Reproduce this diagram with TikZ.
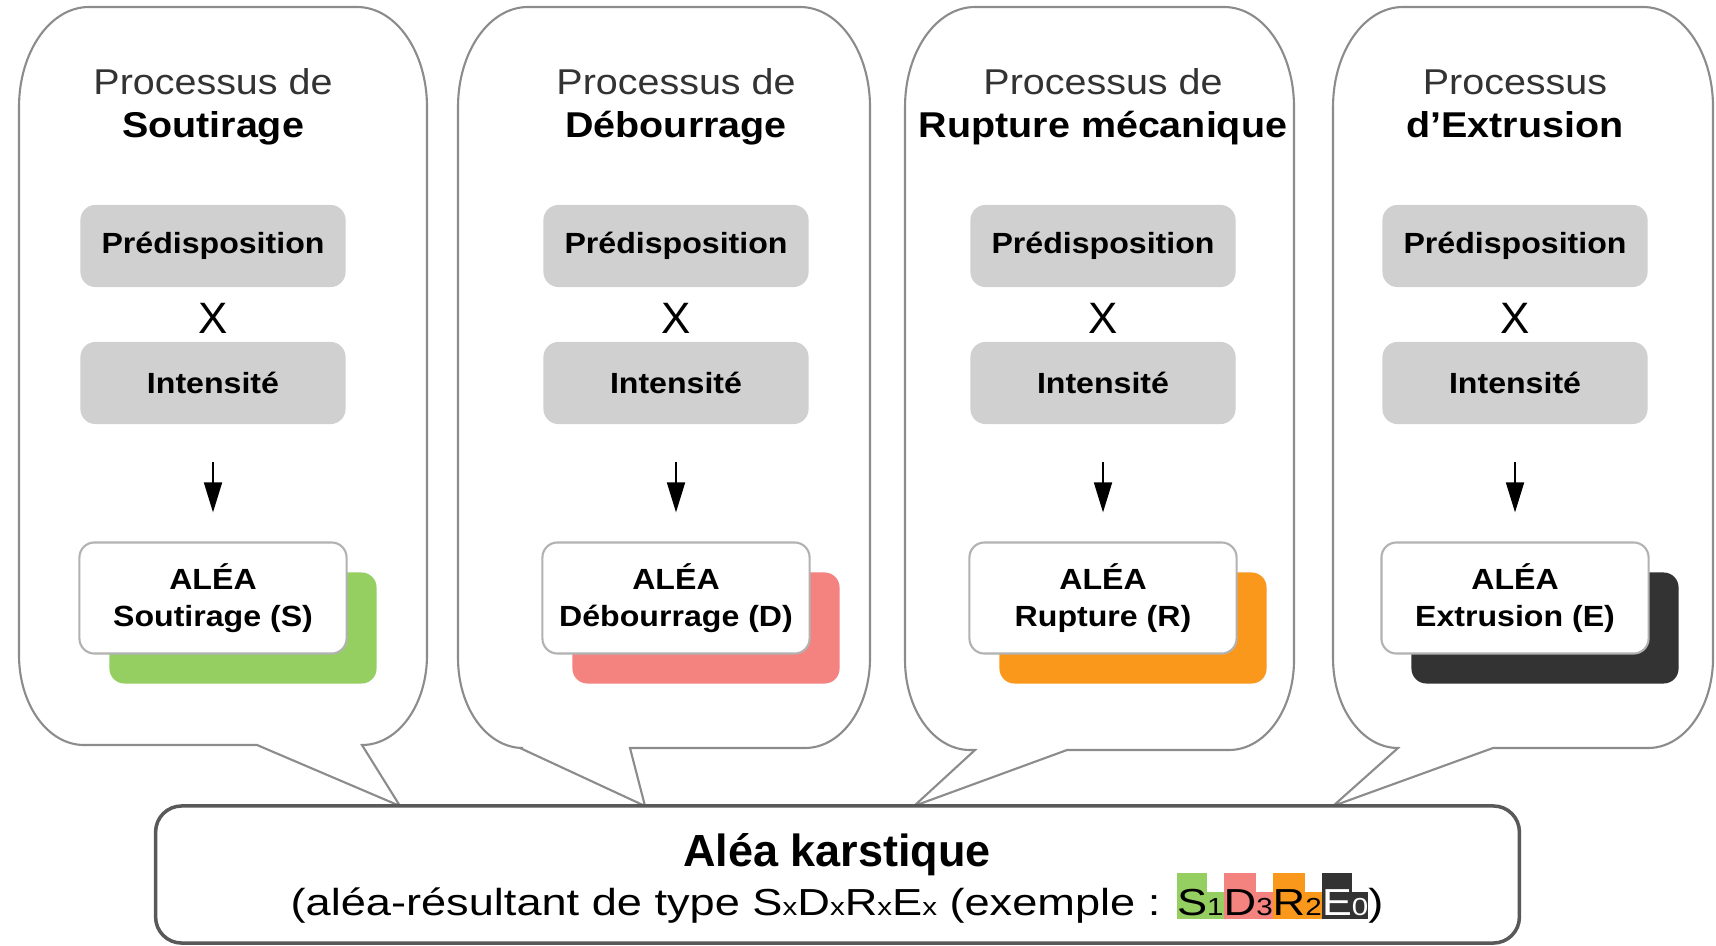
\documentclass[tikz,border=0pt]{standalone}
\usepackage{fontspec}
\setmainfont{Liberation Sans}[FakeStretch=1.1]
\newfontfamily\plainfont{Liberation Sans}
\newfontfamily\widefont{Liberation Sans}[FakeStretch=1.2]
\usetikzlibrary{arrows.meta}

\definecolor{bubblegray}{HTML}{8C8C8C}
\definecolor{boxgray}{HTML}{D0D0D0}
\definecolor{titlegray}{HTML}{333333}
\definecolor{aleaS}{HTML}{95CF62}
\definecolor{aleaD}{HTML}{F4827F}
\definecolor{aleaR}{HTML}{FA981C}
\definecolor{aleaE}{HTML}{333333}

\newcommand{\smallx}{{\fontsize{7}{7}\selectfont x}}
\newcommand{\codepair}[4]{{\setlength{\fboxsep}{0pt}%
  \colorbox{#1}{\color{#4}\rule[-0.04cm]{0pt}{0.46cm}#2}%
  \colorbox{#1}{\color{#4}\fontsize{7}{7}\selectfont\rule[-0.04cm]{0pt}{0.27cm}#3}}}

\begin{document}
\begin{tikzpicture}
[x=0.01cm, y=-0.01cm, line width=0.6pt,
bubble/.style={draw=bubblegray, fill=white},
factor/.style={fill=boxgray, rounded corners=0.15cm, inner sep=0pt,
  minimum width=2.65cm, minimum height=0.82cm,
  font=\fontsize{8.3}{10}\selectfont\bfseries},
alea/.style={draw=black!30, fill=white, rounded corners=0.15cm, inner sep=0pt,
  minimum width=2.67cm, minimum height=1.11cm, align=center,
  font=\fontsize{8.3}{10.5}\selectfont\bfseries},
shade/.style={rounded corners=0.15cm, inner sep=0pt,
  minimum width=2.67cm, minimum height=1.11cm},
flow/.style={-{Triangle[length=0.3cm, width=0.18cm]}, line width=0.5pt,
  shorten <=0.37cm, shorten >=0.29cm},
karst/.style={draw=black!65, line width=1pt, fill=white, rounded corners=0.26cm,
  minimum width=13.63cm, minimum height=1.37cm}]

\useasboundingbox (0,0) rectangle (1716,946);

\foreach \xa/\xb/\yb/\tl/\tx/\tr in {19/427/745/257/400/362, 458/870/748/520/645/630,
    905/1294/750/975/914/1067, 1333/1713/748/1398/1333/1493} {
  \draw[bubble] (\tl,\yb) -- (\tx,806) -- (\tr,\yb) -- ({\xb-65},\yb)
    .. controls ({\xb-29},\yb) and (\xb,{\yb-40}) .. (\xb,{\yb-90})
    -- (\xb,107) .. controls (\xb,52) and ({\xb-31},7) .. ({\xb-70},7)
    -- ({\xa+70},7) .. controls ({\xa+31},7) and (\xa,52) .. (\xa,107)
    -- (\xa,{\yb-90}) .. controls (\xa,{\yb-40}) and ({\xa+29},\yb) .. ({\xa+65},\yb)
    -- cycle;
}

\node[karst] (karst) at (837.5,874.5) {};
\node[anchor=base, font=\plainfont\fontsize{12.8}{14}\selectfont\bfseries] (karsttitle)
  at (837,866) {Aléa karstique};
\node[anchor=base, font=\widefont\fontsize{10.7}{12}\selectfont] (karstcode) at (837,915)
  {(aléa-résultant de type S\smallx D\smallx R\smallx E\smallx{} (exemple :
  \codepair{aleaS}{S}{1}{black}\codepair{aleaD}{D}{3}{black}\codepair{aleaR}{R}{2}{black}\codepair{aleaE}{E}{0}{white})};

\foreach \n/\cx/\pre/\main/\hz/\tag/\col in {
    1/213/{Processus de}/Soutirage/Soutirage/S/aleaS,
    2/676/{Processus de}/Débourrage/Débourrage/D/aleaD,
    3/1103/{Processus de}/{Rupture mécanique}/Rupture/R/aleaR,
    4/1515/Processus/d’Extrusion/Extrusion/E/aleaE} {
  \node[anchor=base, text=titlegray, font=\fontsize{10.2}{12}\selectfont] (proc\n) at (\cx,95) {\pre};
  \node[anchor=base, font=\fontsize{10.2}{12}\selectfont\bfseries] (name\n) at (\cx,138) {\main};
  \node[factor] (pre\n) at (\cx,246) {Prédisposition};
  \node[font=\plainfont\fontsize{12.5}{14}\selectfont] (times\n) at (\cx,318) {X};
  \node[factor] (int\n) at (\cx,383) {Intensité};
  \node[shade, fill=\col] (shade\n) at ({\cx+30},628) {};
  \node[alea] (alea\n) at (\cx,598) {ALÉA\\\hz{} (\tag)};
  \draw[flow] (int\n) -- (alea\n);
}

\end{tikzpicture}
\end{document}
